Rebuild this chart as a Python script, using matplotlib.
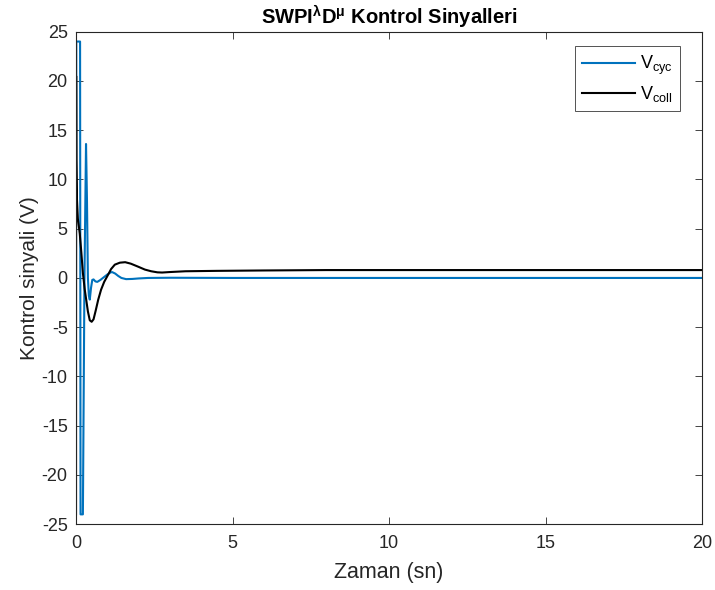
import matplotlib
matplotlib.use("Agg")
import matplotlib.pyplot as plt

plt.rcParams['font.family'] = ['Liberation Sans', 'DejaVu Sans']
plt.rcParams['mathtext.fontset'] = 'custom'
plt.rcParams['mathtext.rm'] = 'Liberation Sans'
plt.rcParams['mathtext.it'] = 'Liberation Sans:italic'
plt.rcParams['mathtext.bf'] = 'Liberation Sans:bold'
plt.rcParams['axes.unicode_minus'] = False

# Cyclic control signal (V) over time (s)
t_cyc = [0.0, 0.01, 0.13, 0.145, 0.22, 0.27, 0.32, 0.35, 0.38, 0.41, 0.44, 0.48,
         0.52, 0.56, 0.62, 0.68, 0.78, 0.90, 1.00, 1.10, 1.15, 1.25, 1.35, 1.45,
         1.60, 1.80, 2.00, 2.30, 3.00, 5.00, 20.0]
v_cyc = [0.0, 24.0, 24.0, -24.0, -24.0, 0.0, 13.6, 8.0, 0.0, -1.8, -2.2, -1.0,
         -0.2, -0.15, -0.35, -0.4, -0.2, 0.1, 0.35, 0.55, 0.6, 0.45, 0.2, 0.0,
         -0.12, -0.1, -0.05, 0.0, 0.02, 0.0, 0.0]

# Collective control signal (V) over time (s)
t_coll = [0.0, 0.004, 0.012, 0.03, 0.06, 0.12, 0.17, 0.22, 0.28, 0.33, 0.38, 0.44,
          0.50, 0.56, 0.63, 0.71, 0.80, 0.90, 1.02, 1.12, 1.24, 1.40, 1.57, 1.75,
          1.98, 2.20, 2.40, 2.60, 2.75, 3.00, 3.50, 4.50, 6.00, 8.00, 12.0, 20.0]
v_coll = [-24.0, 20.5, 12.0, 8.0, 6.0, 4.5, 2.6, 0.5, -1.2, -2.3, -3.4, -4.3,
          -4.45, -4.2, -3.3, -2.2, -1.2, -0.4, 0.3, 0.9, 1.35, 1.55, 1.6, 1.45,
          1.15, 0.85, 0.68, 0.57, 0.55, 0.6, 0.68, 0.72, 0.76, 0.8, 0.8, 0.8]

x_ticks = [0, 5, 10, 15, 20]
y_ticks = [-25, -20, -15, -10, -5, 0, 5, 10, 15, 20, 25]

dark = (0.15, 0.15, 0.15)

fig = plt.figure(figsize=(7.15, 5.90), dpi=100)
ax = fig.add_axes([0.1063, 0.1115, 0.8757, 0.8348])

ax.plot(t_cyc, v_cyc, color='#0072BD', lw=1.5, label=r'V$_{\mathrm{cyc}}$')
ax.plot(t_coll, v_coll, color='black', lw=1.5, label=r'V$_{\mathrm{coll}}$')

ax.set_xlim(0, 20)
ax.set_ylim(-25, 25)
ax.set_xticks(x_ticks)
ax.set_yticks(y_ticks)
ax.tick_params(direction='in', top=True, right=True, length=5, width=0.6,
               colors=dark, labelsize=13, pad=6)
ax.tick_params(axis='x', pad=8)
for s in ax.spines.values():
    s.set_color(dark)
    s.set_linewidth(0.8)

ax.set_xlabel('Zaman (sn)', fontsize=15.5, color=dark, labelpad=7)
ax.set_ylabel('Kontrol sinyali (V)', fontsize=15, color=dark, labelpad=2)
ax.set_title(r'SWPI$^{\mathbf{λ}}$D$^{\mathbf{μ}}$ Kontrol Sinyalleri',
             fontsize=14.5, fontweight='bold', color='black', pad=5)

leg = ax.legend(loc='upper right', fontsize=13, frameon=True, fancybox=False,
                edgecolor=dark, handlelength=2.9, handletextpad=0.3,
                borderpad=0.4, labelspacing=0.4, borderaxespad=0,
                bbox_to_anchor=(0.965, 0.970))
leg.get_frame().set_linewidth(0.7)

fig.savefig('out.png', dpi=100)
